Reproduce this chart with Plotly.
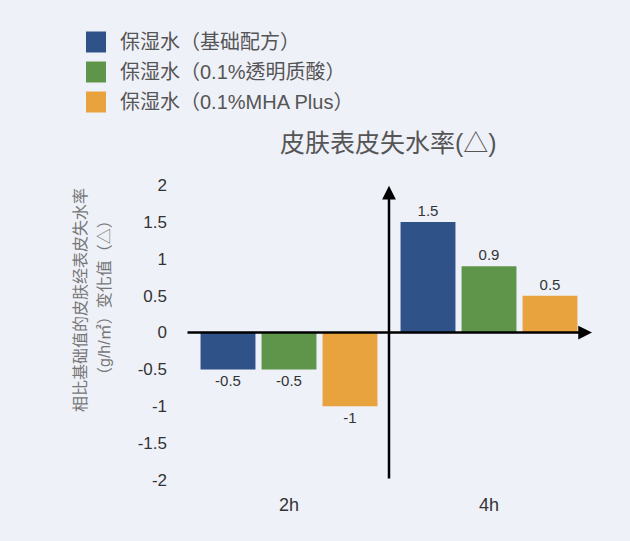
import plotly.graph_objects as go

categories = ["2h", "4h"]
series_names = ["保湿水（基础配方）", "保湿水（0.1%透明质酸）", "保湿水（0.1%MHA Plus）"]
series_values = [
    [-0.5, 1.5],
    [-0.5, 0.9],
    [-1.0, 0.5],
]
series_colors = ["#2f5389", "#5f954b", "#e9a33e"]
y_ticks = [-2, -1.5, -1, -0.5, 0, 0.5, 1, 1.5, 2]
title_text = "皮肤表皮失水率(△)"
ytitle_line1 = "相比基础值的皮肤经表皮失水率"
ytitle_line2 = "（g/h/㎡）变化值（△）"

FONT = "Liberation Sans, Noto Sans CJK TC, Noto Sans CJK SC, sans-serif"
BG = "#eff1f9"

fig = go.Figure()
for name, vals, col in zip(series_names, series_values, series_colors):
    fig.add_trace(go.Bar(
        x=categories, y=vals, name=name, marker=dict(color=col, line=dict(width=0)),
        text=[f"{v:g}" for v in vals], textposition="outside",
        textfont=dict(size=15, color="#333333", family=FONT),
        cliponaxis=False, showlegend=False,
    ))

W, H = 630, 541
L, R, T, B = 185, 37, 185, 61
pw, ph = W - L - R, H - T - B

def px(x):
    return (x - L) / pw

def py(y):
    return (H - B - y) / ph

shapes = []
annotations = []
# manual legend
for i, (name, col) in enumerate(zip(series_names, series_colors)):
    yc = 42 + 30 * i
    shapes.append(dict(type="rect", xref="paper", yref="paper",
                       x0=px(86), x1=px(106), y0=py(yc + 10.5), y1=py(yc - 10.5),
                       fillcolor=col, line=dict(width=0)))
    annotations.append(dict(xref="paper", yref="paper", x=px(118), y=py(yc),
                            text=name, showarrow=False, xanchor="left", yanchor="middle",
                            font=dict(size=20, color="#555555", family=FONT)))

# title
annotations.append(dict(xref="paper", yref="paper", x=px(388), y=py(143), text=title_text,
                        showarrow=False, xanchor="center", yanchor="middle",
                        font=dict(size=25, color="#555555", family=FONT)))
# y axis title lines
annotations.append(dict(xref="paper", yref="paper", x=px(80), y=py(300), text=ytitle_line1,
                        showarrow=False, textangle=-90, xanchor="center", yanchor="middle",
                        font=dict(size=16, color="#777777", family=FONT)))
annotations.append(dict(xref="paper", yref="paper", x=px(104), y=py(298), text=ytitle_line2,
                        showarrow=False, textangle=-90, xanchor="center", yanchor="middle",
                        font=dict(size=16, color="#777777", family=FONT)))

# axis arrows
annotations.append(dict(x=1.515, y=0, ax=-0.515, ay=0, xref="x", yref="y", axref="x", ayref="y",
                        text="", showarrow=True, arrowhead=2, arrowsize=1.1, arrowwidth=2.5,
                        arrowcolor="#000000"))
annotations.append(dict(x=0.5, y=1.99, ax=0.5, ay=-2.0, xref="x", yref="y", axref="x", ayref="y",
                        text="", showarrow=True, arrowhead=2, arrowsize=1.1, arrowwidth=2.5,
                        arrowcolor="#000000"))

fig.update_layout(
    width=W, height=H,
    margin=dict(l=L, r=R, t=T, b=B),
    paper_bgcolor=BG, plot_bgcolor=BG,
    barmode="group", bargap=0.085, bargroupgap=0.1,
    font=dict(family=FONT, color="#333333"),
    shapes=shapes, annotations=annotations,
    xaxis=dict(range=[-0.52, 1.52], showgrid=False, zeroline=False, showline=False,
               ticks="", tickfont=dict(size=18, color="#333333"), ticklabelstandoff=12),
    yaxis=dict(range=[-2, 2], tickvals=y_ticks, ticktext=[f"{v:g}" for v in y_ticks],
               showgrid=False, zeroline=False, showline=False, ticks="",
               tickfont=dict(size=17, color="#333333"), ticklabelstandoff=17),
)

fig.write_html("out.html")
